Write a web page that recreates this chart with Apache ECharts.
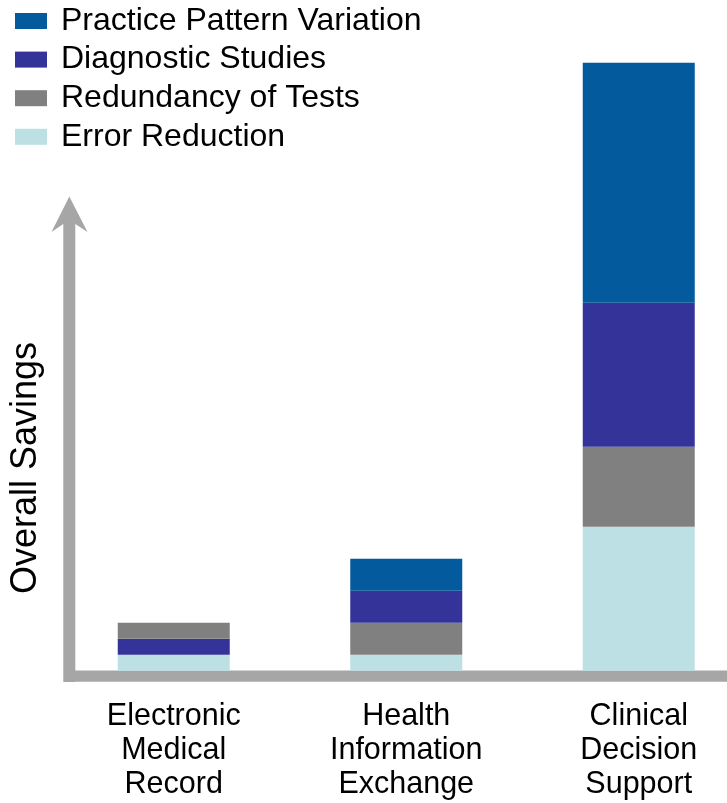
<!DOCTYPE html>
<html>
<head>
<meta charset="utf-8">
<style>
  html, body { margin: 0; padding: 0; background: #fff; }
  #chart { width: 727px; height: 803px; }
</style>
<script src="https://cdn.jsdelivr.net/npm/echarts@6/dist/echarts.min.js"></script>
</head>
<body>
<div id="chart"></div>
<script>
// categories and stacked segment values (relative units)
const categories = [
  "Electronic\nMedical\nRecord",
  "Health\nInformation\nExchange",
  "Clinical\nDecision\nSupport"
];
const errorReduction = [1, 1, 9];
const redundancyOfTests = [0, 2, 5];
const diagnosticStudies = [1, 2, 9];
const practicePatternVariation = [0, 2, 15];
// in the EMR bar the gray segment sits on top of the blue one
const redundancyOnTop = [1, 0, 0];
const legendOrder = [
  "Practice Pattern Variation",
  "Diagnostic Studies",
  "Redundancy of Tests",
  "Error Reduction"
];

(function () {
  let dom = document.querySelector("#chart");
  let myChart = echarts.init(dom);
  const font = "'Liberation Sans', Arial, sans-serif";
  const axisColor = "#a5a6a5";

  function bar(name, data, color) {
    return {
      name: name,
      type: "bar",
      stack: "total",
      barWidth: 112,
      data: data,
      itemStyle: { color: color },
      emphasis: { disabled: true }
    };
  }

  let options = {
    animation: false,
    textStyle: { fontFamily: font },
    legend: {
      orient: "vertical",
      left: 15,
      top: 3,
      padding: 0,
      itemWidth: 32,
      itemHeight: 16,
      itemGap: 2.6,
      icon: "rect",
      data: legendOrder,
      textStyle: {
        fontFamily: font,
        fontSize: 32,
        lineHeight: 36,
        color: "#000",
        padding: [0, 0, 0, 9]
      }
    },
    grid: {
      left: 57.5,
      width: 697.5,
      top: 62.7,
      bottom: 132.3,
      outerBoundsMode: "none",
      containLabel: false
    },
    xAxis: {
      type: "category",
      data: categories,
      axisLine: { show: false },
      axisTick: { show: false },
      axisLabel: {
        interval: 0,
        margin: 29,
        fontFamily: font,
        fontSize: 30.5,
        lineHeight: 34,
        color: "#000"
      }
    },
    yAxis: {
      type: "value",
      min: 0,
      max: 38,
      show: false
    },
    // hand-drawn style axes: thick gray lines with an arrow head
    graphic: [
      {
        type: "rect",
        shape: { x: 63.3, y: 222, width: 12, height: 460 },
        style: { fill: axisColor },
        silent: true
      },
      {
        type: "rect",
        shape: { x: 64, y: 670.5, width: 663, height: 11.3 },
        style: { fill: axisColor },
        silent: true
      },
      {
        type: "polygon",
        shape: {
          points: [[69.3, 196.5], [87.5, 232], [75.3, 224], [63.3, 224], [51.5, 232]]
        },
        style: { fill: axisColor },
        silent: true
      },
      {
        type: "text",
        x: 26,
        y: 468,
        rotation: Math.PI / 2,
        style: {
          text: "Overall Savings",
          font: "36px 'Liberation Sans', Arial, sans-serif",
          fill: "#000",
          textAlign: "center",
          textVerticalAlign: "middle"
        },
        silent: true
      }
    ],
    series: [
      bar("Error Reduction", errorReduction, "#bce0e3"),
      bar("Redundancy of Tests", redundancyOfTests, "#808080"),
      bar("Diagnostic Studies", diagnosticStudies, "#343399"),
      bar("Practice Pattern Variation", practicePatternVariation, "#035b9e"),
      bar("Redundancy of Tests", redundancyOnTop, "#808080")
    ]
  };
  myChart.setOption(options);
  window.addEventListener("resize", () => {
    myChart.resize();
  });
})();
</script>
</body>
</html>
